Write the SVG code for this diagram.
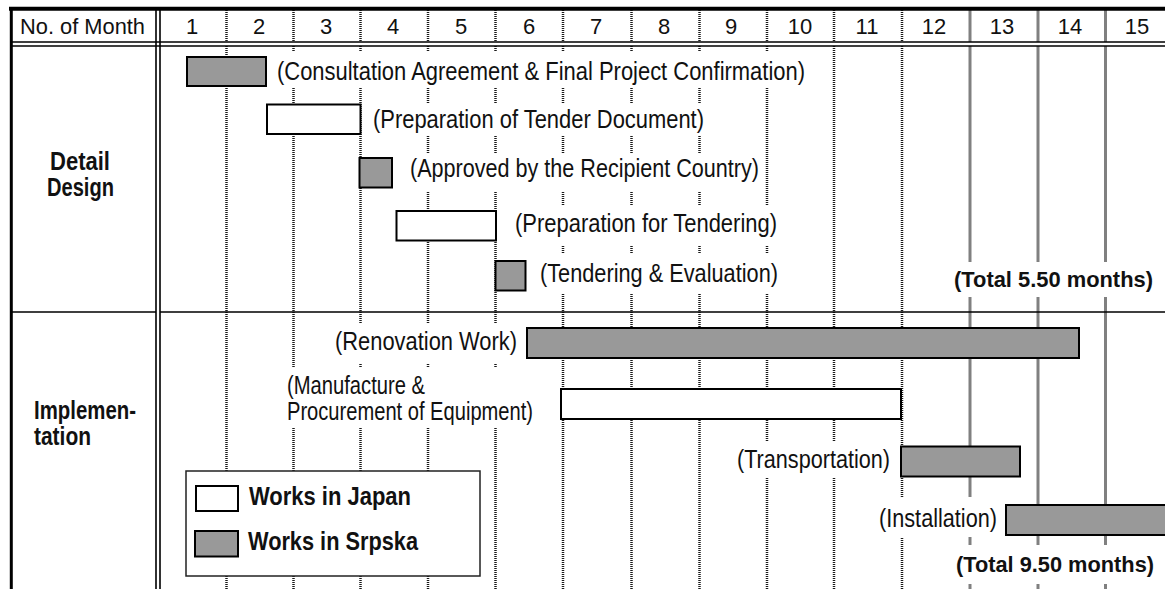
<svg xmlns="http://www.w3.org/2000/svg" width="1165" height="589" viewBox="0 0 1165 589">
<style>
text{font-family:"Liberation Sans Narrow","Liberation Sans",Arial,sans-serif;fill:#111}
.hd{font-size:22px}
.lb{font-size:25px}
.bd{font-size:25px;font-weight:bold}
.tt{font-size:22.8px;font-weight:bold}
.dot{stroke:#1a1a1a;stroke-width:2.5;stroke-dasharray:1 1;fill:none}
.gry{stroke:#808080;stroke-width:3;fill:none}
.frm{stroke:#000;fill:none}
.bg{fill:#fff;stroke:none}
.gb{fill:#999;stroke:#000;stroke-width:2}
.wb{fill:#fff;stroke:#000;stroke-width:2}
</style>
<rect width="1165" height="589" fill="#fff"/>
<g id="grid">
<path class="dot" d="M226.5 10V42M293.5 10V42M360.5 10V42M428 10V42M495.5 10V42M563 10V42M631.5 10V42M699.5 10V42M767 10V42M834 10V42M902 10V42"/>
<path class="dot" d="M226.5 46V589M293.5 46V589M360.5 46V589M428 46V589M495.5 46V589M563 46V589M631.5 46V589M699.5 46V589M767 46V589M834 46V589M902 46V589"/>
<path class="gry" d="M970 10V42M1038 10V42M1105.5 10V42M970 46V589M1038 46V589M1105.5 46V589"/>
</g>
<g id="frame">
<path class="frm" stroke-width="4" d="M9 8.7H1165"/>
<path class="frm" stroke-width="3" d="M11.3 7V589"/>
<path class="frm" stroke-width="1.6" d="M11 42H1165M11 46H1165M156 8V589M160 8V589M11 312H156M160 312H1165"/>
</g>
<g id="header">
<text class="hd" x="20" y="34" textLength="125" lengthAdjust="spacingAndGlyphs">No. of Month</text>
<g text-anchor="middle">
<text class="hd" x="192" y="34">1</text>
<text class="hd" x="259" y="34">2</text>
<text class="hd" x="326" y="34">3</text>
<text class="hd" x="393" y="34">4</text>
<text class="hd" x="461" y="34">5</text>
<text class="hd" x="529" y="34">6</text>
<text class="hd" x="596" y="34">7</text>
<text class="hd" x="664" y="34">8</text>
<text class="hd" x="731" y="34">9</text>
<text class="hd" x="800" y="34">10</text>
<text class="hd" x="867" y="34">11</text>
<text class="hd" x="934" y="34">12</text>
<text class="hd" x="1002" y="34">13</text>
<text class="hd" x="1070" y="34">14</text>
<text class="hd" x="1137" y="34">15</text>
</g>
</g>
<g id="section-detail">
<text class="bd" x="50" y="170" textLength="60" lengthAdjust="spacingAndGlyphs">Detail</text>
<text class="bd" x="47" y="196" textLength="67" lengthAdjust="spacingAndGlyphs">Design</text>
</g>
<g id="section-impl">
<text class="bd" x="34" y="419" textLength="102" lengthAdjust="spacingAndGlyphs">Implemen-</text>
<text class="bd" x="34" y="445" textLength="57" lengthAdjust="spacingAndGlyphs">tation</text>
</g>
<g id="task-consultation">
<rect class="bg" x="272" y="51" width="538" height="37"/>
<rect class="gb" x="187" y="57" width="79" height="29"/>
<text class="lb" x="277" y="80" textLength="528" lengthAdjust="spacingAndGlyphs">(Consultation Agreement &amp; Final Project Confirmation)</text>
</g>
<g id="task-tender-doc">
<rect class="bg" x="365" y="104" width="345" height="31"/>
<rect class="wb" x="267" y="104.5" width="93.5" height="29.5"/>
<text class="lb" x="373" y="128" textLength="331" lengthAdjust="spacingAndGlyphs">(Preparation of Tender Document)</text>
</g>
<g id="task-approved">
<rect class="bg" x="400" y="153" width="363" height="38"/>
<rect class="gb" x="359.5" y="158" width="32.5" height="29.5"/>
<text class="lb" x="410" y="177" textLength="349" lengthAdjust="spacingAndGlyphs">(Approved by the Recipient Country)</text>
</g>
<g id="task-prep-tendering">
<rect class="bg" x="505" y="205" width="277" height="40"/>
<rect class="wb" x="396.5" y="211" width="99.5" height="29.5"/>
<text class="lb" x="515" y="232" textLength="262" lengthAdjust="spacingAndGlyphs">(Preparation for Tendering)</text>
</g>
<g id="task-tendering">
<rect class="bg" x="530" y="253" width="252" height="41"/>
<rect class="gb" x="495.5" y="261" width="30" height="29.5"/>
<text class="lb" x="540" y="282" textLength="238" lengthAdjust="spacingAndGlyphs">(Tendering &amp; Evaluation)</text>
</g>
<g id="total-detail">
<rect class="bg" x="948" y="262" width="214" height="35"/>
<text class="tt" x="954" y="287" textLength="199" lengthAdjust="spacingAndGlyphs">(Total 5.50 months)</text>
</g>
<g id="task-renovation">
<rect class="bg" x="300" y="323" width="222" height="40"/>
<rect class="gb" x="527" y="328" width="552" height="30"/>
<text class="lb" x="335" y="350" textLength="182" lengthAdjust="spacingAndGlyphs">(Renovation Work)</text>
</g>
<g id="task-manufacture">
<rect class="bg" x="282" y="368" width="255" height="60"/>
<rect class="wb" x="561" y="389" width="340" height="30"/>
<text class="lb" x="287" y="394" textLength="138" lengthAdjust="spacingAndGlyphs">(Manufacture &amp;</text>
<text class="lb" x="287" y="420" textLength="246" lengthAdjust="spacingAndGlyphs">Procurement of Equipment)</text>
</g>
<g id="task-transportation">
<rect class="bg" x="728" y="442" width="167" height="36"/>
<rect class="gb" x="901" y="446.5" width="119" height="30"/>
<text class="lb" x="737" y="468" textLength="153" lengthAdjust="spacingAndGlyphs">(Transportation)</text>
</g>
<g id="task-installation">
<rect class="bg" x="874" y="497" width="127" height="40"/>
<rect class="gb" x="1006" y="505" width="170" height="30"/>
<text class="lb" x="879" y="527" textLength="118" lengthAdjust="spacingAndGlyphs">(Installation)</text>
</g>
<g id="total-impl">
<rect class="bg" x="950" y="545" width="212" height="39"/>
<text class="tt" x="956" y="572" textLength="198" lengthAdjust="spacingAndGlyphs">(Total 9.50 months)</text>
</g>
<g id="legend">
<rect x="186" y="471" width="294" height="105" fill="#fff" stroke="#222" stroke-width="1.5"/>
<rect class="wb" x="196" y="486" width="42" height="25"/>
<text class="bd" x="249" y="505" textLength="162" lengthAdjust="spacingAndGlyphs">Works in Japan</text>
<rect class="gb" x="195" y="531" width="43" height="25.5"/>
<text class="bd" x="248" y="550" textLength="170" lengthAdjust="spacingAndGlyphs">Works in Srpska</text>
</g>
</svg>
